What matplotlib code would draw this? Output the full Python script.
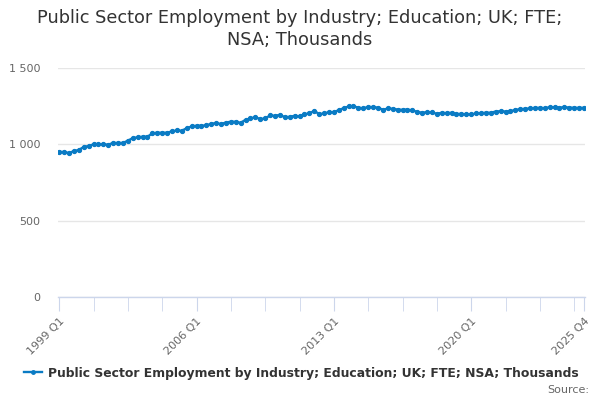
import matplotlib
matplotlib.use("Agg")
import matplotlib.pyplot as plt
from matplotlib.ticker import FuncFormatter

years = list(range(1999, 2026))
quarters = [f"{y} Q{q}" for y in years for q in range(1, 5)]

values = [
    950, 950, 943, 956, 963, 983, 989, 1000, 1000, 1000, 998, 1009, 1009, 1009,
    1024, 1041, 1046, 1050, 1050, 1072, 1076, 1076, 1076, 1085, 1091, 1089,
    1106, 1117, 1122, 1122, 1124, 1135, 1139, 1133, 1143, 1148, 1148, 1141,
    1161, 1170, 1178, 1165, 1170, 1189, 1187, 1193, 1178, 1180, 1187, 1183,
    1198, 1202, 1220, 1198, 1202, 1211, 1211, 1224, 1237, 1248, 1248, 1241,
    1235, 1246, 1243, 1241, 1226, 1235, 1233, 1228, 1226, 1228, 1222, 1213,
    1207, 1211, 1209, 1200, 1207, 1204, 1207, 1198, 1200, 1196, 1196, 1202,
    1204, 1207, 1207, 1215, 1217, 1215, 1217, 1226, 1230, 1233, 1235, 1239,
    1239, 1237, 1243, 1243, 1241, 1243, 1241, 1239, 1239, 1239,
]

series_name = "Public Sector Employment by Industry; Education; UK; FTE; NSA; Thousands"
title = "Public Sector Employment by Industry; Education; UK; FTE;\nNSA; Thousands"
yticks = [0, 500, 1000, 1500]
xtick_labels = ["1999 Q1", "2006 Q1", "2013 Q1", "2020 Q1", "2025 Q4"]

color = "#0a7bc4"

fig = plt.figure(figsize=(6, 4), dpi=100)
ax = fig.add_axes([0.097, 0.2575, 0.878, 0.5725])

x = list(range(len(values)))
ax.plot(x, values, color=color, lw=1.7, marker="o", ms=2.8,
        markeredgecolor=color, markerfacecolor=color, zorder=3)

ax.set_ylim(0, 1500)
ax.set_xlim(-0.2, len(values) - 1 + 0.2)
ax.set_yticks(yticks)
ax.yaxis.set_major_formatter(FuncFormatter(lambda v, p: f"{int(v):,}".replace(",", " ")))
ax.grid(axis="y", color="#e6e6e6", lw=1)
ax.set_axisbelow(True)

for s in ["top", "right", "left"]:
    ax.spines[s].set_visible(False)
ax.spines["bottom"].set_color("#ccd6eb")
ax.spines["bottom"].set_linewidth(1)

minor = list(range(0, len(values) - 2, 7)) + [len(values) - 1]
ax.set_xticks(minor, minor=True)
label_pos = [quarters.index(l) for l in xtick_labels]
ax.set_xticks(label_pos)
ax.set_xticklabels(xtick_labels, rotation=45, ha="right", rotation_mode="anchor")
ax.tick_params(axis="x", which="both", length=10, color="#ccd6eb", labelsize=8,
               labelcolor="#666666", pad=4)
ax.tick_params(axis="y", length=0, labelsize=8, labelcolor="#666666", pad=13)

fig.text(0.5, 0.9275, title, ha="center", va="center", fontsize=12.8, color="#333333",
         linespacing=1.25)

# legend
leg = ax.legend([series_name], loc="upper center", bbox_to_anchor=(0.462, -0.255),
                frameon=False, prop={"weight": "bold", "size": 8.9}, handlelength=1.4,
                handletextpad=0.5, labelcolor="#333333")
leg.get_lines()[0].set_markersize(2.5)
fig.text(0.982, 0.025, "Source:", ha="right", va="center", fontsize=8, color="#666666")

fig.savefig("out.png", dpi=100)
